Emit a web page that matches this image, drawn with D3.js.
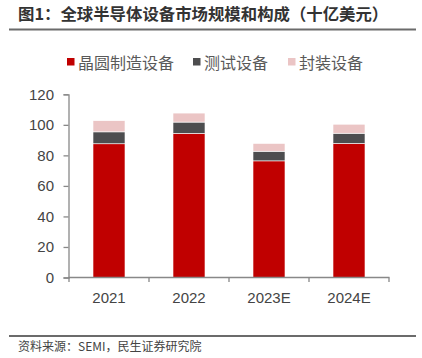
<!DOCTYPE html>
<html><head><meta charset="utf-8">
<script src="https://d3js.org/d3.v7.min.js"></script>
<style>body{margin:0;background:#fff;}svg{display:block;font-family:"Noto Sans CJK SC","Noto Sans",sans-serif;}</style>
</head><body><svg id="c" width="422" height="358"></svg>
<script>
const categories = ["2021", "2022", "2023E", "2024E"];
const seriesNames = ["晶圆制造设备", "测试设备", "封装设备"];
const fab = [87.6, 94.4, 76.4, 87.8];
const test = [7.8, 7.4, 6.3, 6.7];
const pkg = [7.3, 5.9, 5.1, 5.9];
const yTicks = [0, 20, 40, 60, 80, 100, 120];
const colors = ["#C00000", "#4D4D4F", "#EBC5C5"];

const svg = d3.select("#c");
const data = categories.map((c, i) => ({cat: c, fab: fab[i], test: test[i], pkg: pkg[i]}));
const keys = ["fab", "test", "pkg"];
const stack = d3.stack().keys(keys)(data);

const x = d3.scaleBand().domain(categories).range([69, 389]).paddingInner(0.6).paddingOuter(0.3);
const y = d3.scaleLinear().domain([0, 120]).range([277.5, 94.3]);

// title
svg.append("text").attr("x", 18).attr("y", 19.5).attr("font-size", 16.4).attr("font-weight", "bold")
  .attr("fill", "#333").text("图1：全球半导体设备市场规模和构成（十亿美元）");
svg.append("line").attr("x1", 9).attr("x2", 416).attr("y1", 29.5).attr("y2", 29.5).attr("stroke", "#6b6b6b").attr("stroke-width", 2);

// legend
const legX = [67, 193, 288];
seriesNames.forEach((n, i) => {
  svg.append("rect").attr("x", legX[i]).attr("y", 58).attr("width", 7.5).attr("height", 7.5).attr("fill", colors[i]);
  svg.append("text").attr("x", legX[i] + 11).attr("y", 68.5).attr("font-size", 16).attr("fill", "#595959").text(n);
});

// bars
svg.append("g").selectAll("g").data(stack).join("g").attr("fill", (d, i) => colors[i])
  .selectAll("rect").data(d => d).join("rect")
  .attr("x", d => x(d.data.cat)).attr("width", x.bandwidth())
  .attr("y", d => y(d[1])).attr("height", d => y(d[0]) - y(d[1]))
  .attr("stroke", "#fff").attr("stroke-width", 0.6);

// y axis
const ya = svg.append("g").attr("transform", "translate(68.5,0)")
  .call(d3.axisLeft(y).tickValues(yTicks).tickSize(5).tickPadding(9.5));
ya.select(".domain").attr("stroke", "#888").attr("stroke-width", 1.3);
ya.selectAll(".tick line").attr("stroke", "#888").attr("stroke-width", 1.3);
ya.selectAll("text").attr("font-size", 15).attr("fill", "#444").attr("font-family", "Liberation Sans, Arial, sans-serif");

// x axis
const xa = svg.append("g");
xa.append("line").attr("x1", 68.5).attr("x2", 389.5).attr("y1", 277.5).attr("y2", 277.5).attr("stroke", "#888").attr("stroke-width", 1.3);
xa.selectAll("line.t").data(categories.concat(["end"])).join("line").attr("class", "t")
  .attr("x1", (d, i) => x.range()[0] + i * x.step())
  .attr("x2", (d, i) => x.range()[0] + i * x.step())
  .attr("y1", 277.5).attr("y2", 282).attr("stroke", "#888").attr("stroke-width", 1.3);
xa.selectAll("text").data(categories).join("text")
  .attr("x", d => x(d) + x.bandwidth() / 2).attr("y", 302.5).attr("text-anchor", "middle")
  .attr("font-size", 15).attr("fill", "#444").attr("font-family", "Liberation Sans, Arial, sans-serif").text(d => d);

// footer
svg.append("line").attr("x1", 9).attr("x2", 416).attr("y1", 336).attr("y2", 336).attr("stroke", "#6b6b6b").attr("stroke-width", 2);
svg.append("text").attr("x", 18).attr("y", 351).attr("font-size", 12).attr("fill", "#444")
  .text("资料来源：SEMI，民生证券研究院");
</script></body></html>
